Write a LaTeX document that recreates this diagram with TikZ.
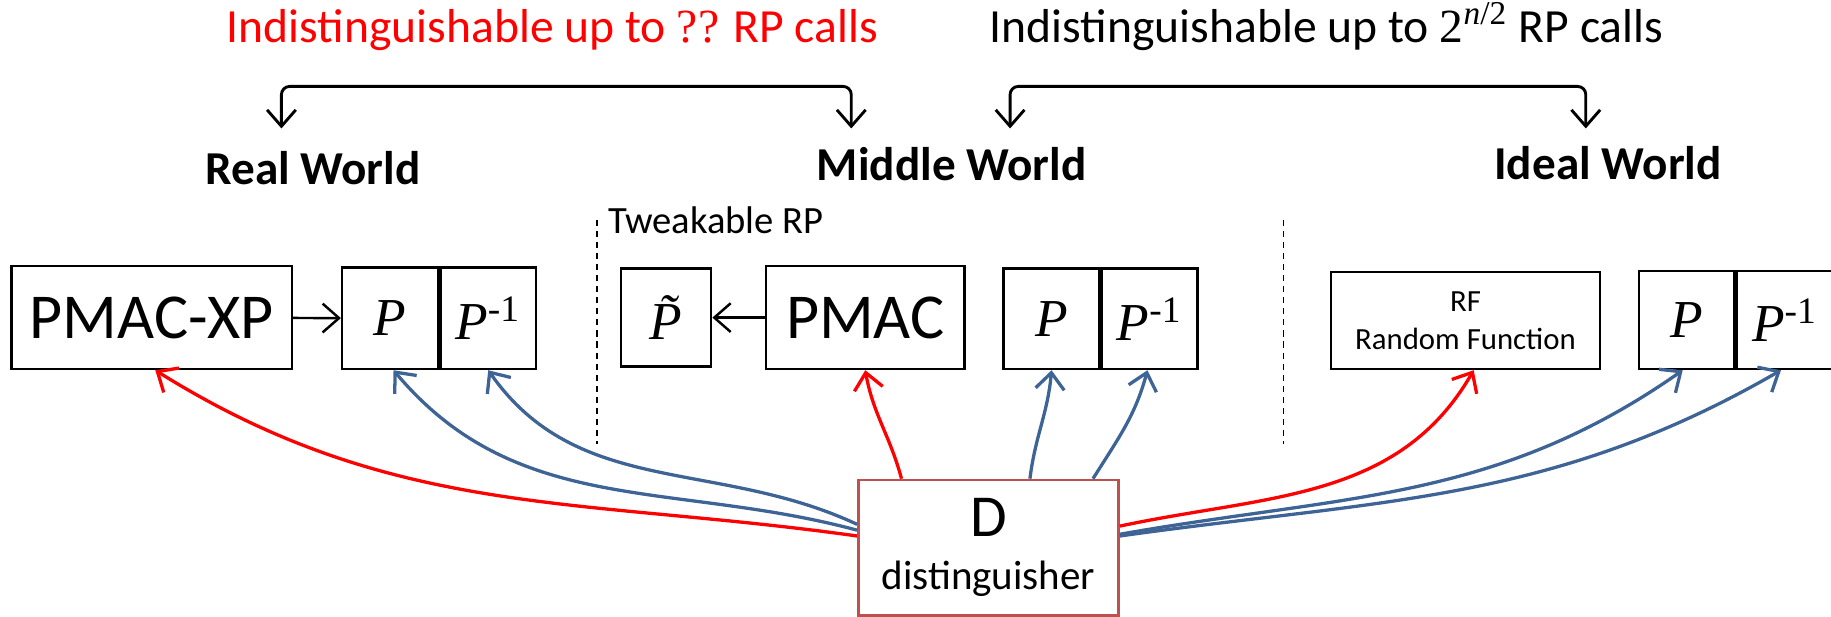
\documentclass[tikz,border=0pt]{standalone}
\usepackage{fontspec}
\setmainfont{Carlito}
\newfontfamily\tms{Liberation Serif}
\usetikzlibrary{arrows.meta,positioning}

\definecolor{callred}{RGB}{255,0,0}
\definecolor{callblue}{RGB}{62,100,150}
\definecolor{dborder}{RGB}{192,80,77}

\newcommand{\bigtxt}{\fontsize{15.6}{18}\selectfont}
\newcommand{\titletxt}{\fontsize{11.6}{14}\selectfont}
\newcommand{\worldtxt}{\fontsize{11.5}{14}\selectfont\bfseries}
\newcommand{\inv}{P\textsuperscript{\upshape -1}}

\tikzset{
	barb/.tip={Straight Barb[length=4pt,width=7pt]},
	box/.style={draw,line width=0.6pt,inner sep=0pt,minimum height=0.87cm},
	perm/.style={box,minimum width=0.82cm,font=\fontsize{13}{15}\selectfont\tms\itshape},
	qred/.style={callred,line width=0.8pt,-barb},
	qblue/.style={callblue,line width=0.8pt,-barb},
	brk/.style={line width=0.7pt,rounded corners=2pt,barb-barb},
	sep/.style={line width=0.4pt,dash pattern=on 1.5pt off 1.2pt}
}

\begin{document}
\begin{tikzpicture}
	\useasboundingbox (0,0) rectangle (15.68,5.28);

	% titles
	\node[anchor=base,text=callred,font=\titletxt] (tleft) at (4.73,4.92)
	{Indistinguishable up to {\tms ??} RP calls};
	\node[anchor=base,font=\titletxt] (tright) at (11.36,4.92)
	{Indistinguishable up to {\tms 2}\textsuperscript{\tms\itshape n\upshape/2} RP calls};

	\coordinate (brl1) at (2.41,4.18);
	\coordinate (brl2) at (7.29,4.18);
	\coordinate (brr1) at (8.65,4.18);
	\coordinate (brr2) at (13.58,4.18);
	\draw[brk] (brl1) -- ++(0,0.36) -| (brl2);
	\draw[brk] (brr1) -- ++(0,0.36) -| (brr2);

	\node[anchor=base,font=\worldtxt] (real) at (2.68,3.70) {Real World};
	\node[anchor=base,font=\worldtxt] (middle) at (8.15,3.73) {Middle World};
	\node[anchor=base,font=\worldtxt] (ideal) at (13.77,3.74) {Ideal World};

	\foreach \x in {5.11,10.99}
	{
		\draw[sep] (\x,3.40)--(\x,1.48);
	}
	\node[anchor=base west,inner sep=0pt,font=\fontsize{9.4}{11}\selectfont] (tweak) at (5.20,3.28)
	{Tweakable RP};

	% real world
	\node[box,minimum width=2.40cm,minimum height=0.88cm,font=\bigtxt] (xp) at (1.30,2.56) {PMAC-XP};
	\node[perm] (rp) at (3.34,2.555) {P};
	\node[perm,right=0pt of rp] (rpi) {\inv};
	\draw[line width=0.6pt,-barb] (xp) -- (rp);

	% middle world
	\node[perm,minimum width=0.77cm,minimum height=0.84cm] (tp) at (5.705,2.56) {\~P};
	\node[box,minimum width=1.70cm,minimum height=0.88cm,font=\bigtxt] (pm) at (7.41,2.56) {PMAC};
	\draw[line width=0.6pt,-barb] (pm) -- (tp);
	\node[perm,minimum height=0.86cm] (mp) at (9.005,2.55) {P};
	\node[perm,minimum height=0.86cm,right=0pt of mp] (mpi) {\inv};

	% ideal world
	\node[box,minimum width=2.30cm,minimum height=0.83cm,align=center,
		font=\fontsize{7.5}{9.4}\selectfont] (rf) at (12.55,2.535) {RF\\Random Function};
	\node[perm,minimum height=0.84cm] (ip) at (14.445,2.54) {P};
	\node[perm,minimum height=0.84cm,right=0pt of ip] (ipi) {\inv};

	% distinguisher
	\node[box,draw=dborder,minimum width=2.23cm,minimum height=1.16cm,align=center,
		font=\fontsize{10}{12.8}\selectfont] (d) at (8.465,0.59)
	{{\fontsize{14.5}{12.8}\selectfont D}\\distinguisher};

	\draw[qred] ([yshift=0.10cm]d.west) to[out=172,in=-32] ([xshift=0.03cm]xp.south);
	\draw[qblue] ([yshift=0.15cm]d.west) to[out=165,in=-50] ([xshift=0.03cm]rp.south);
	\draw[qblue] ([yshift=0.20cm]d.west) to[out=155,in=-55] (rpi.south);
	\draw[qred] ([xshift=-0.745cm]d.north) to[out=105,in=-80] (pm.south);
	\draw[qblue] ([xshift=0.355cm]d.north) to[out=83,in=-95] (mp.south);
	\draw[qblue] ([xshift=0.895cm]d.north) to[out=58,in=-105] ([xshift=-0.02cm]mpi.south);
	\draw[qred] ([yshift=0.185cm]d.east) to[out=12,in=-120] ([xshift=0.07cm]rf.south);
	\draw[qblue] ([yshift=0.115cm]d.east) to[out=10,in=-145] ([xshift=-0.035cm]ip.south);
	\draw[qblue] ([yshift=0.10cm]d.east) to[out=8,in=-150] ([xshift=-0.035cm]ipi.south);
\end{tikzpicture}
\end{document}
